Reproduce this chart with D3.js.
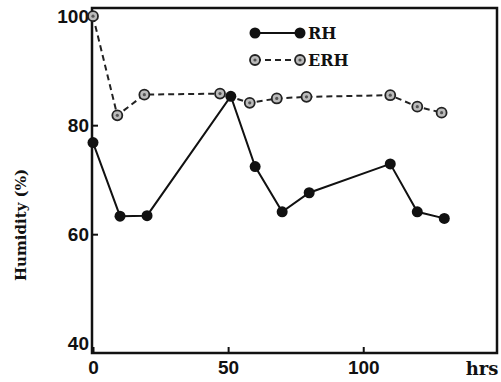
<!DOCTYPE html>
<html lang="en">
<head>
  <meta charset="UTF-8">
  <title>Humidity</title>
  <script src="https://d3js.org/d3.v7.min.js"></script>
  <style>
    body {
      margin: 0;
      background: #fff;
    }
    svg {
      font-family: "DejaVu Serif", serif;
      font-weight: bold;
    }
    .tick text {
      font-size: 19px;
      fill: #111;
    }
    .tick line {
      stroke: #111;
      stroke-width: 2;
    }
  </style>
</head>
<body>
  <svg width="501" height="382"></svg>
  <script>
    // values
    const rhHours  = [0, 10, 20, 51, 60, 70, 80, 110, 120, 130];
    const rhValues = [76.8, 63.3, 63.4, 85.3, 72.4, 64.1, 67.6, 72.9, 64.1, 62.9];
    const erhHours  = [0, 9, 19, 47, 58, 68, 79, 110, 120, 129];
    const erhValues = [100, 81.8, 85.6, 85.8, 84.1, 84.9, 85.2, 85.5, 83.4, 82.3];
    const xTicks = [0, 50, 100];
    const yTicks = [40, 60, 80, 100];

    const svg = d3.select("svg");
    const plotL = 93, plotR = 497, plotT = 8, plotB = 353;

    const x = d3.scaleLinear().domain([0, 149.5]).range([plotL, plotR]);
    const y = d3.scaleLinear().domain([38.2, 101.5]).range([plotB, plotT]);

    const rh = rhHours.map((h, i) => ({h: h, v: rhValues[i]}));
    const erh = erhHours.map((h, i) => ({h: h, v: erhValues[i]}));

    // axes, ticks pointing inward
    svg.append("g")
      .attr("transform", `translate(0,${plotB})`)
      .call(d3.axisBottom(x).tickValues(xTicks).tickSizeInner(-6).tickSizeOuter(0).tickPadding(8))
      .call(g => g.select(".domain").remove())
      .call(g => g.selectAll(".tick text").attr("dy", "0.71em"));

    svg.append("g")
      .attr("transform", `translate(${plotL - 1},0)`)
      .call(d3.axisLeft(y).tickValues(yTicks).tickSizeInner(-6).tickSizeOuter(0).tickPadding(3))
      .call(g => g.select(".domain").remove())
      .call(g => g.selectAll(".tick").filter(d => d === 40 || d === 100).select("line").remove());

    // frame
    svg.append("path")
      .attr("d", `M${plotL - 1},${plotT} H${plotR} V${plotB} H${plotL - 1} Z`)
      .attr("fill", "none")
      .attr("stroke", "#111")
      .attr("stroke-width", 2.5);

    svg.append("text")
      .attr("x", 482)
      .attr("y", 375)
      .attr("text-anchor", "middle")
      .attr("font-size", 18)
      .attr("fill", "#111")
      .text("hrs");

    svg.append("text")
      .attr("transform", "translate(26,225) rotate(-90)")
      .attr("text-anchor", "middle")
      .attr("font-size", 15)
      .attr("fill", "#111")
      .text("Humidity (%)");

    const line = d3.line().x(d => x(d.h)).y(d => y(d.v));

    svg.append("path")
      .datum(erh)
      .attr("d", line)
      .attr("fill", "none")
      .attr("stroke", "#222")
      .attr("stroke-width", 2)
      .attr("stroke-dasharray", "6,4");

    svg.append("path")
      .datum(rh)
      .attr("d", line)
      .attr("fill", "none")
      .attr("stroke", "#111")
      .attr("stroke-width", 2);

    function openMark(sel) {
      sel.append("circle").attr("r", 5).attr("fill", "#bbb").attr("stroke", "#222").attr("stroke-width", 1.8);
      sel.append("circle").attr("r", 1.6).attr("fill", "#555");
    }

    svg.selectAll(".erh")
      .data(erh)
      .enter()
      .append("g")
      .attr("class", "erh")
      .attr("transform", d => `translate(${x(d.h)},${y(d.v)})`)
      .call(openMark);

    svg.selectAll(".rh")
      .data(rh)
      .enter()
      .append("circle")
      .attr("class", "rh")
      .attr("cx", d => x(d.h))
      .attr("cy", d => y(d.v))
      .attr("r", 5.5)
      .attr("fill", "#111");

    // legend
    const lg = svg.append("g");
    lg.append("line").attr("x1", 255).attr("x2", 300).attr("y1", 33).attr("y2", 33)
      .attr("stroke", "#111").attr("stroke-width", 2);
    lg.selectAll(".lrh").data([255, 300]).enter().append("circle")
      .attr("cx", d => d).attr("cy", 33).attr("r", 5.5).attr("fill", "#111");
    lg.append("text").attr("x", 308).attr("y", 39).attr("font-size", 16).attr("fill", "#111").text("RH");

    lg.append("line").attr("x1", 255).attr("x2", 300).attr("y1", 60).attr("y2", 60)
      .attr("stroke", "#222").attr("stroke-width", 2).attr("stroke-dasharray", "6,4");
    lg.selectAll(".lerh").data([255, 300]).enter().append("g")
      .attr("transform", d => `translate(${d},60)`)
      .call(openMark);
    lg.append("text").attr("x", 308).attr("y", 66).attr("font-size", 16).attr("fill", "#111").text("ERH");
  </script>
</body>
</html>
